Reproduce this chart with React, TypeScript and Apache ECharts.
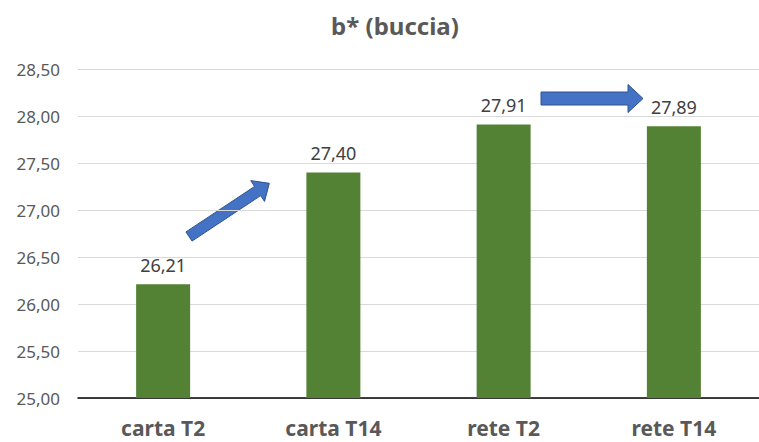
import React, { useEffect, useRef } from "react";
import * as echarts from "echarts";

const categories = ["carta T2", "carta T14", "rete T2", "rete T14"];
const values = [26.21, 27.4, 27.91, 27.89];
const yMin = 25;
const yMax = 28.5;
const yInterval = 0.5;
const titleText = "b* (buccia)";

function arrowPoints(x1: number, y1: number, x2: number, y2: number, bw: number, hw: number, hl: number) {
  const dx = x2 - x1;
  const dy = y2 - y1;
  const len = Math.sqrt(dx * dx + dy * dy);
  const ux = dx / len;
  const uy = dy / len;
  const nx = -uy;
  const ny = ux;
  const bx = x2 - ux * hl;
  const by = y2 - uy * hl;
  const p = (x: number, y: number, n: number) => [x + nx * n, y + ny * n];
  return [
    p(x1, y1, bw / 2),
    p(bx, by, bw / 2),
    p(bx, by, hw / 2),
    [x2, y2],
    p(bx, by, -hw / 2),
    p(bx, by, -bw / 2),
    p(x1, y1, -bw / 2),
  ];
}

const fmt = (v: number) => v.toFixed(2).replace(".", ",");

export default function App() {
  const ref = useRef<HTMLDivElement>(null);
  useEffect(() => {
    if (!ref.current) return;
    const chart = echarts.init(ref.current, null, { renderer: "svg" });
    const font = "'Noto Sans', sans-serif";
    chart.setOption({
      animation: false,
      backgroundColor: "#ffffff",
      title: {
        text: titleText,
        left: 395,
        textAlign: "center",
        top: 13,
        padding: 0,
        textStyle: { fontFamily: font, fontSize: 24, fontWeight: "bold", color: "#595959" },
      },
      grid: { left: 78, top: 69, width: 688, bottom: 44, containLabel: false },
      xAxis: {
        type: "category",
        data: categories,
        axisLine: { show: true, lineStyle: { color: "#000000", width: 1.5 } },
        axisTick: { show: false },
        axisLabel: {
          fontFamily: font,
          fontSize: 21,
          lineHeight: 21,
          fontWeight: "bold",
          color: "#595959",
          margin: 19,
        },
      },
      yAxis: {
        type: "value",
        min: yMin,
        max: yMax,
        interval: yInterval,
        axisLine: { show: false },
        axisTick: { show: false },
        splitLine: { lineStyle: { color: "#D9D9D9", width: 1 } },
        axisLabel: {
          fontFamily: font,
          fontSize: 17,
          color: "#595959",
          margin: 18,
          formatter: (v: number) => fmt(v),
        },
      },
      series: [
        {
          type: "bar",
          data: values,
          barWidth: 54,
          itemStyle: { color: "#548235" },
          label: {
            show: true,
            position: "top",
            distance: 10,
            fontFamily: font,
            fontSize: 18,
            color: "#404040",
            formatter: (p: any) => fmt(p.value),
          },
        },
      ],
      graphic: [
        {
          type: "polygon",
          shape: { points: arrowPoints(189, 236.5, 269.3, 183.3, 11, 25, 14) },
          style: { fill: "#4472C4", stroke: "#2F528F", lineWidth: 1 },
        },
        {
          type: "polygon",
          shape: { points: arrowPoints(541, 98.5, 643, 98.5, 13, 28, 15) },
          style: { fill: "#4472C4", stroke: "#2F528F", lineWidth: 1 },
        },
      ],
    });
    return () => chart.dispose();
  }, []);
  return <div ref={ref} style={{ position: "fixed", left: 0, top: 0, width: 759, height: 442 }} />;
}
